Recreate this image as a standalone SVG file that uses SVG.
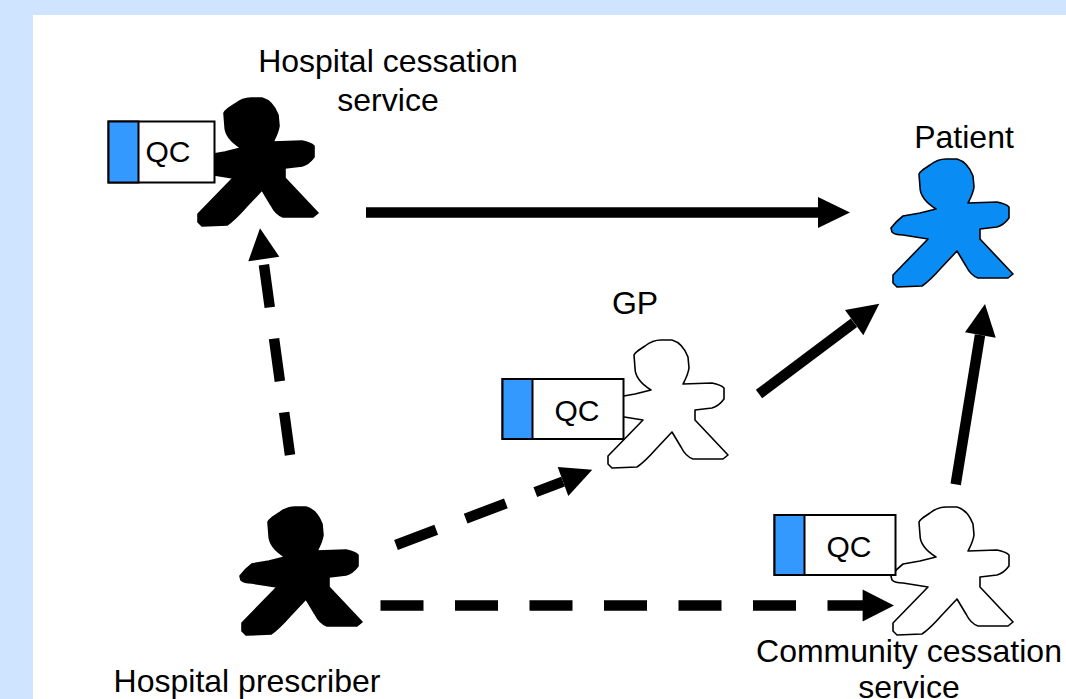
<svg xmlns="http://www.w3.org/2000/svg" width="1066" height="699" viewBox="0 0 1066 699">
<style>
text{font-family:"Liberation Sans",Arial,sans-serif;font-size:32px;fill:#000;text-anchor:middle}
text.q{font-size:30px}
.solid,.dash{fill:none;stroke:#000;stroke-width:10.500}
.dash{stroke-dasharray:43 31.500}
.head{fill:#000}
.qc{fill:#fff;stroke:#000;stroke-width:2}
.tab{fill:#3399ff;stroke:#000;stroke-width:2}
.fig{stroke:#000;stroke-width:1.600;stroke-linejoin:round}
</style>
<defs>
<path id="person" d="M66 69C58 64 50 56 50 47L49 34C51 30 56 28 60 25C65 21 70 19 76 19L87 19C94 21 100 28 103 36L104 47C103 54 100 59 98 63L127 62C132 63 137 65 139 67L139 78C136 82 131 86 127 87L110 89L110 99L143 134L138 138L108 138C102 136 98 130 96 126L87 111L71 128C64 136 58 142 52 146L27 147L23 143L23 135L58 99L33 95C28 95 24 94 22 92L21 88C25 83 29 79 33 76L50 73Z"/>
</defs>
<rect width="1066" height="699" fill="#cfe5ff"/>
<rect x="33" y="15" width="1033" height="684" fill="#fff"/>
<g id="connectors">
<path class="solid" d="M366 212.500H820"/><path class="head" d="M818 197L850 212.500L818 228Z"/>
<path class="solid" d="M759 394L854 322.700"/><path class="head" d="M845 310L879.300 303.700L863.300 335.300Z"/>
<path class="solid" d="M955.700 484.300L980 335"/><path class="head" d="M965 332.300L985 304L995.700 337.700Z"/>
<path class="dash" d="M290 455L263 258"/><path class="head" d="M248.300 261.300L260 228.300L279.300 256.700Z"/>
<path class="dash" d="M396 545L563 481.700"/><path class="head" d="M557.700 467L592.300 469.700L568.300 496Z"/>
<path class="dash" d="M380.500 605.500H865"/><path class="head" d="M862.600 589.500L894 605.500L862.600 621.500Z"/>
</g>
<g id="hospital-service">
<use href="#person" class="fig" x="175" y="79" fill="#000"/>
<rect class="qc" x="108.500" y="121.500" width="106" height="61"/><rect class="tab" x="108.500" y="121.500" width="30" height="61"/>
<text class="q" x="168" y="162">QC</text>
<text x="388" y="72">Hospital cessation</text><text x="388" y="111">service</text>
</g>
<g id="patient">
<use href="#person" class="fig" x="870" y="140" fill="#0a8cf5"/>
<text x="964" y="148">Patient</text>
</g>
<g id="gp">
<use href="#person" class="fig" x="585" y="321" fill="#fff"/>
<rect class="qc" x="502.500" y="379" width="121" height="60"/><rect class="tab" x="502.500" y="379" width="30" height="60"/>
<text class="q" x="577" y="421">QC</text>
<text x="635" y="314">GP</text>
</g>
<g id="community-service">
<use href="#person" class="fig" x="870" y="488" fill="#fff"/>
<rect class="qc" x="774.500" y="515" width="121" height="60"/><rect class="tab" x="774.500" y="515" width="30" height="60"/>
<text class="q" x="849" y="557">QC</text>
<text x="909" y="662">Community cessation</text><text x="909" y="698">service</text>
</g>
<g id="hospital-prescriber">
<use href="#person" class="fig" x="219" y="488" fill="#000"/>
<text x="247" y="692">Hospital prescriber</text>
</g>
</svg>
